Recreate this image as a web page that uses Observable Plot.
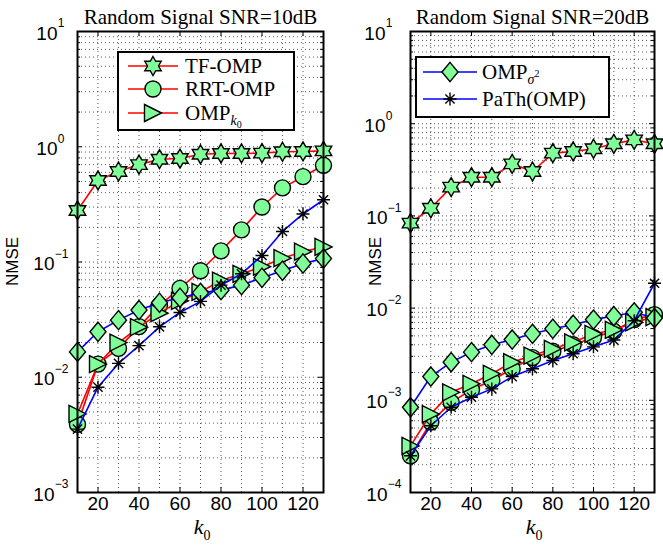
<!DOCTYPE html>
<html><head><meta charset="utf-8">
<script src="https://cdn.jsdelivr.net/npm/d3@7"></script>
<script src="https://cdn.jsdelivr.net/npm/@observablehq/plot@0.6"></script>
<style>
body{margin:0;background:#fff;}
#wrap{position:relative;width:663px;height:546px;overflow:hidden;background:#fff;}
#wrap svg{position:absolute;top:0;overflow:visible;}
</style></head><body><div id="wrap"></div>
<script>
// ---- data ----
const kValues = [10,20,30,40,50,60,70,80,90,100,110,120,130];
const xTicks = [20,40,60,80,100,120];
const yTicks10 = [1e-3,1e-2,1e-1,1,10];
const yTicks20 = [1e-4,1e-3,1e-2,1e-1,1,10];
const titles = ["Random Signal SNR=10dB","Random Signal SNR=20dB"];
const seriesNames = ["TF-OMP","RRT-OMP","OMP_k0","OMP_sigma2","PaTh(OMP)"];

// SNR = 10 dB
const tfomp10  = [0.28,0.51,0.61,0.70,0.78,0.79,0.86,0.875,0.875,0.88,0.905,0.91,0.92];
const rrtomp10 = [0.0039,0.0130,0.0178,0.0275,0.042,0.059,0.084,0.125,0.19,0.30,0.44,0.55,0.69];
const ompk010  = [0.0048,0.0130,0.0200,0.0272,0.036,0.046,0.055,0.069,0.079,0.091,0.108,0.123,0.135];
const ompsig10 = [0.0166,0.0248,0.0313,0.0383,0.0443,0.049,0.054,0.057,0.063,0.073,0.084,0.097,0.107];
const path10   = [0.00355,0.0082,0.0132,0.0188,0.0274,0.0365,0.0455,0.063,0.079,0.114,0.184,0.261,0.347];

// SNR = 20 dB
const tfomp20  = [0.0834,0.121,0.205,0.263,0.263,0.367,0.303,0.48,0.50,0.535,0.605,0.668,0.605];
const rrtomp20 = [0.00025,0.00058,0.00095,0.0013,0.00164,0.0022,0.0029,0.0034,0.0040,0.0048,0.0056,0.0075,0.0085];
const ompk020  = [0.00032,0.00071,0.00122,0.00151,0.00194,0.00259,0.00306,0.00362,0.00426,0.00526,0.0058,0.0070,0.0080];
const ompsig20 = [0.00084,0.00181,0.00259,0.00333,0.0040,0.00456,0.00526,0.00597,0.0066,0.0075,0.0082,0.0090,0.0078];
const path20   = [0.00025,0.00053,0.00084,0.00108,0.00133,0.00181,0.0022,0.0027,0.0032,0.0038,0.0045,0.0073,0.0186];

// ---- symbols ----
const GREEN = "#80ff99";
const rad = s => Math.sqrt(s / Math.PI);
const hexagram = {draw(c, s){ const r = rad(s), ri = r/Math.sqrt(3);
  for (let i=0;i<12;i++){ const a=-Math.PI/2+i*Math.PI/6, rr=i%2?ri:r;
    const x=rr*Math.cos(a), y=rr*Math.sin(a); i?c.lineTo(x,y):c.moveTo(x,y);} c.closePath(); }};
const circleSym = {draw(c, s){ const r = rad(s); c.moveTo(r,0); c.arc(0,0,r,0,2*Math.PI); c.closePath(); }};
const triRight = {draw(c, s){ const r = rad(s); c.moveTo(r,0); c.lineTo(-r,-r); c.lineTo(-r,r); c.closePath(); }};
const diamond = {draw(c, s){ const r = rad(s); c.moveTo(0,-1.2*r); c.lineTo(r,0); c.lineTo(0,1.2*r); c.lineTo(-r,0); c.closePath(); }};
const asterisk = {draw(c, s){ const r = rad(s);
  for (const a of [0,45,90,135]){ const t=a*Math.PI/180, x=r*Math.cos(t), y=r*Math.sin(t); c.moveTo(x,y); c.lineTo(-x,-y);} }};

const styles = [
  {sym: hexagram, r: 9.5, line: "#ff0000", fill: GREEN, sw: 1.4},
  {sym: circleSym, r: 8,  line: "#ff0000", fill: GREEN, sw: 1.4},
  {sym: triRight, r: 8.5, line: "#ff0000", fill: GREEN, sw: 1.4},
  {sym: diamond, r: 8,    line: "#0000ff", fill: GREEN, sw: 1.4},
  {sym: asterisk, r: 6.5, line: "#0000ff", fill: "none", sw: 1.4}
];

function rowsOf(vals){ return kValues.map((k,i)=>({k, v: vals[i]})); }

function minorTicks(domain){
  const out=[]; const lo=Math.round(Math.log10(domain[0])), hi=Math.round(Math.log10(domain[1]));
  for (let e=lo;e<hi;e++) for (let m=2;m<=9;m++) out.push(m*Math.pow(10,e));
  return out;
}

function panel(o){
  const W = o.width, H = 546, mt = 31, mb = 54;
  const fw = W - o.ml - o.mr, fh = H - mt - mb;
  const yMajor = o.yTicks, yMinor = minorTicks(o.yDomain);
  const xGrid = d3.range(20, 121, 10);
  const marks = [
    Plot.ruleX(xGrid, {x: d=>d, stroke:"#000", strokeOpacity:0.65, strokeDasharray:"1,3"}),
    Plot.ruleY(yMajor.concat(yMinor), {y: d=>d, stroke:"#000", strokeOpacity:0.65, strokeDasharray:"1,3"}),
    // inward ticks
    Plot.tickX(xTicks, {x: d=>d, insetTop: fh-5, stroke:"#000"}),
    Plot.tickX(xTicks, {x: d=>d, insetBottom: fh-5, stroke:"#000"}),
    Plot.tickY(yMajor, {y: d=>d, insetRight: fw-5, stroke:"#000"}),
    Plot.tickY(yMajor, {y: d=>d, insetLeft: fw-5, stroke:"#000"}),
    Plot.tickY(yMinor, {y: d=>d, insetRight: fw-3, stroke:"#000"}),
    Plot.tickY(yMinor, {y: d=>d, insetLeft: fw-3, stroke:"#000"}),
  ];
  o.series.forEach((vals, i) => {
    const st = styles[i], rows = rowsOf(vals);
    marks.push(Plot.line(rows, {x:"k", y:"v", stroke: st.line, strokeWidth: 1.6}));
    marks.push(Plot.dot(rows, {x:"k", y:"v", symbol: st.sym, r: st.r, fill: st.fill, stroke:"#000", strokeWidth: st.sw}));
  });
  marks.push(Plot.frame({stroke:"#000", strokeWidth: 2}));
  // tick labels
  const pos = yMajor.filter(v=>v>=1), neg = yMajor.filter(v=>v<1);
  const expo = d => { const e = Math.round(Math.log10(d)); return e<0 ? "\u2212"+(-e) : String(e); };
  marks.push(
    Plot.text(pos, {y: d=>d, text: ()=>"10", frameAnchor:"left", textAnchor:"end", dx: o.posDx-7, dy: 2, fontSize: 19, fontFamily:"Liberation Sans"}),
    Plot.text(pos, {y: d=>d, text: expo, frameAnchor:"left", textAnchor:"end", dx: o.posDx, dy: -8, fontSize: 12, fontFamily:"Liberation Sans"}),
    Plot.text(neg, {y: d=>d, text: ()=>"10", frameAnchor:"left", textAnchor:"end", dx: o.negDx-14, dy: 2, fontSize: 19, fontFamily:"Liberation Sans"}),
    Plot.text(neg, {y: d=>d, text: expo, frameAnchor:"left", textAnchor:"end", dx: o.negDx, dy: -8, fontSize: 12, fontFamily:"Liberation Sans"}),
    Plot.text(xTicks, {x: d=>d, text: d=>String(d), frameAnchor:"bottom", dy: 17, fontSize: 19, fontFamily:"Liberation Sans"}),
    Plot.text([o.title], {text: d=>d, frameAnchor:"top", dy: -22, fontSize: 21, fontFamily:"Liberation Serif"}),
    Plot.text(["k"], {text: d=>d, frameAnchor:"bottom", textAnchor:"end", dx: 3, dy: 41, fontSize: 22, fontStyle:"italic", fontFamily:"Liberation Serif"}),
    Plot.text(["0"], {text: d=>d, frameAnchor:"bottom", textAnchor:"start", dx: 3, dy: 47, fontSize: 14, fontFamily:"Liberation Serif"})
  );
  const svg = Plot.plot({
    width: W, height: H, marginLeft: o.ml, marginRight: o.mr, marginTop: mt, marginBottom: mb,
    x: {domain: [10,130], axis: null},
    y: {type: "log", domain: o.yDomain, axis: null},
    style: {background: "transparent", color: "#000", overflow: "visible"},
    marks
  });
  svg.style.left = o.left + "px";
  // y-axis label (rotated)
  d3.select(svg).append("text")
    .attr("transform", `translate(${o.ml + o.nmseDx},${(mt + H - mb) / 2}) rotate(-90)`)
    .attr("text-anchor", "middle").attr("dominant-baseline", "central")
    .attr("font-family", "Liberation Sans").attr("font-size", 17).attr("fill", "#000")
    .text("NMSE");
  // legend
  const L = o.legend, g = d3.select(svg).append("g").attr("text-anchor", "start");
  g.append("rect").attr("x", L.x).attr("y", L.y).attr("width", L.w).attr("height", L.h)
    .attr("fill", "#fff").attr("stroke", "#000").attr("stroke-width", 2);
  L.rows.forEach((row) => {
    const st = styles[row.idx];
    g.append("line").attr("x1", L.lx1).attr("x2", L.lx2).attr("y1", row.y).attr("y2", row.y)
      .attr("stroke", st.line).attr("stroke-width", 1.6);
    g.append("path").attr("transform", `translate(${(L.lx1+L.lx2)/2},${row.y})`)
      .attr("d", d3.symbol(st.sym, st.r*st.r*Math.PI)())
      .attr("fill", st.fill).attr("stroke", "#000").attr("stroke-width", st.sw);
    const t = g.append("text").attr("x", L.tx).attr("y", row.y + 7).attr("text-anchor", "start")
      .attr("font-family", "Liberation Serif").attr("font-size", 21).attr("fill", "#000");
    row.parts.forEach(p => {
      const ts = t.append("tspan").text(p.t);
      if (p.size) ts.attr("font-size", p.size);
      if (p.dy) ts.attr("dy", p.dy);
      if (p.it) ts.attr("font-style", "italic");
    });
  });
  document.getElementById("wrap").appendChild(svg);
}

panel({
  left: 0, width: 333, ml: 77, mr: 10, yDomain: [1e-3, 10], yTicks: yTicks10, title: titles[0],
  series: [tfomp10, rrtomp10, ompk010, ompsig10, path10], nmseDx: -65, posDx: -13, negDx: -9,
  legend: {x: 118, y: 52, w: 176, h: 78, lx1: 128, lx2: 178, tx: 185, rows: [
    {idx: 0, y: 66, parts: [{t: "TF-OMP"}]},
    {idx: 1, y: 89, parts: [{t: "RRT-OMP"}]},
    {idx: 2, y: 113, parts: [{t: "OMP"}, {t: "k", size: 14, dy: 5, it: true}, {t: "0", size: 10, dy: 3}]}
  ]}
});
panel({
  left: 333, width: 330, ml: 77, mr: 9, yDomain: [1e-4, 10], yTicks: yTicks20, title: titles[1],
  series: [tfomp20, rrtomp20, ompk020, ompsig20, path20], nmseDx: -35, posDx: -18, negDx: -9,
  legend: {x: 83, y: 57, w: 193, h: 60, lx1: 90, lx2: 144, tx: 149, rows: [
    {idx: 3, y: 72, parts: [{t: "OMP"}, {t: "\u03c3", size: 14, dy: 5, it: true}, {t: "2", size: 10, dy: -7}]},
    {idx: 4, y: 99, parts: [{t: "PaTh(OMP)"}]}
  ]}
});
</script></body></html>
